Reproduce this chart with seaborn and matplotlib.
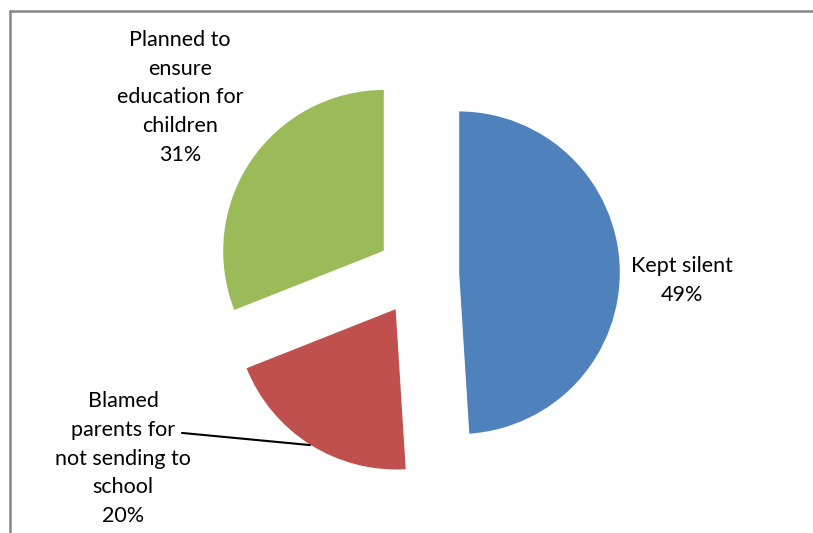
import matplotlib
matplotlib.use("Agg")
import matplotlib.pyplot as plt
from matplotlib.lines import Line2D
import seaborn as sns

# reaction of respondents
categorias = ['Kept silent', 'Blamed\nparents for\nnot sending to\nschool', 'Planned to\nensure\neducation for\nchildren']
valores = [49, 20, 31]
cores = ['#4F81BD', '#C0504D', '#9BBB59']

sns.set_theme(style="white")
plt.rcParams['font.family'] = ['Lato', 'DejaVu Sans']

fig = plt.figure(figsize=(8.13, 5.33), dpi=100)
ax = fig.add_axes([0, 0, 1, 1])

wedges, _ = ax.pie(valores, colors=cores, startangle=90, counterclock=False,
                   explode=[0.25, 0.25, 0.25], radius=1)

# label positions (data units)
pos = [(1.63, -0.04), (-1.82, -1.14), (-1.47, 1.09)]
for nome, v, (x, y) in zip(categorias, valores, pos):
    ax.text(x, y, f"{nome}\n{v}%", ha='center', va='center', fontsize=15.5,
            linespacing=1.55, color='black')

# leader line for red slice
ax.plot([-1.457, -0.667], [-0.981, -1.056], color='black', lw=1.5)

ax.set_xlim(-418 / 162, (813 - 418) / 162)
ax.set_ylim(-(533 - 274) / 162, 274 / 162)
ax.set_aspect('auto')
ax.axis('off')

# chart border (only left and top visible)
fig.add_artist(Line2D([10 / 813, 10 / 813], [0, 1 - 11 / 533], color='#868686', lw=1.8))
fig.add_artist(Line2D([10 / 813, 1], [1 - 11 / 533, 1 - 11 / 533], color='#868686', lw=1.8))

fig.savefig('out.png', dpi=100)
